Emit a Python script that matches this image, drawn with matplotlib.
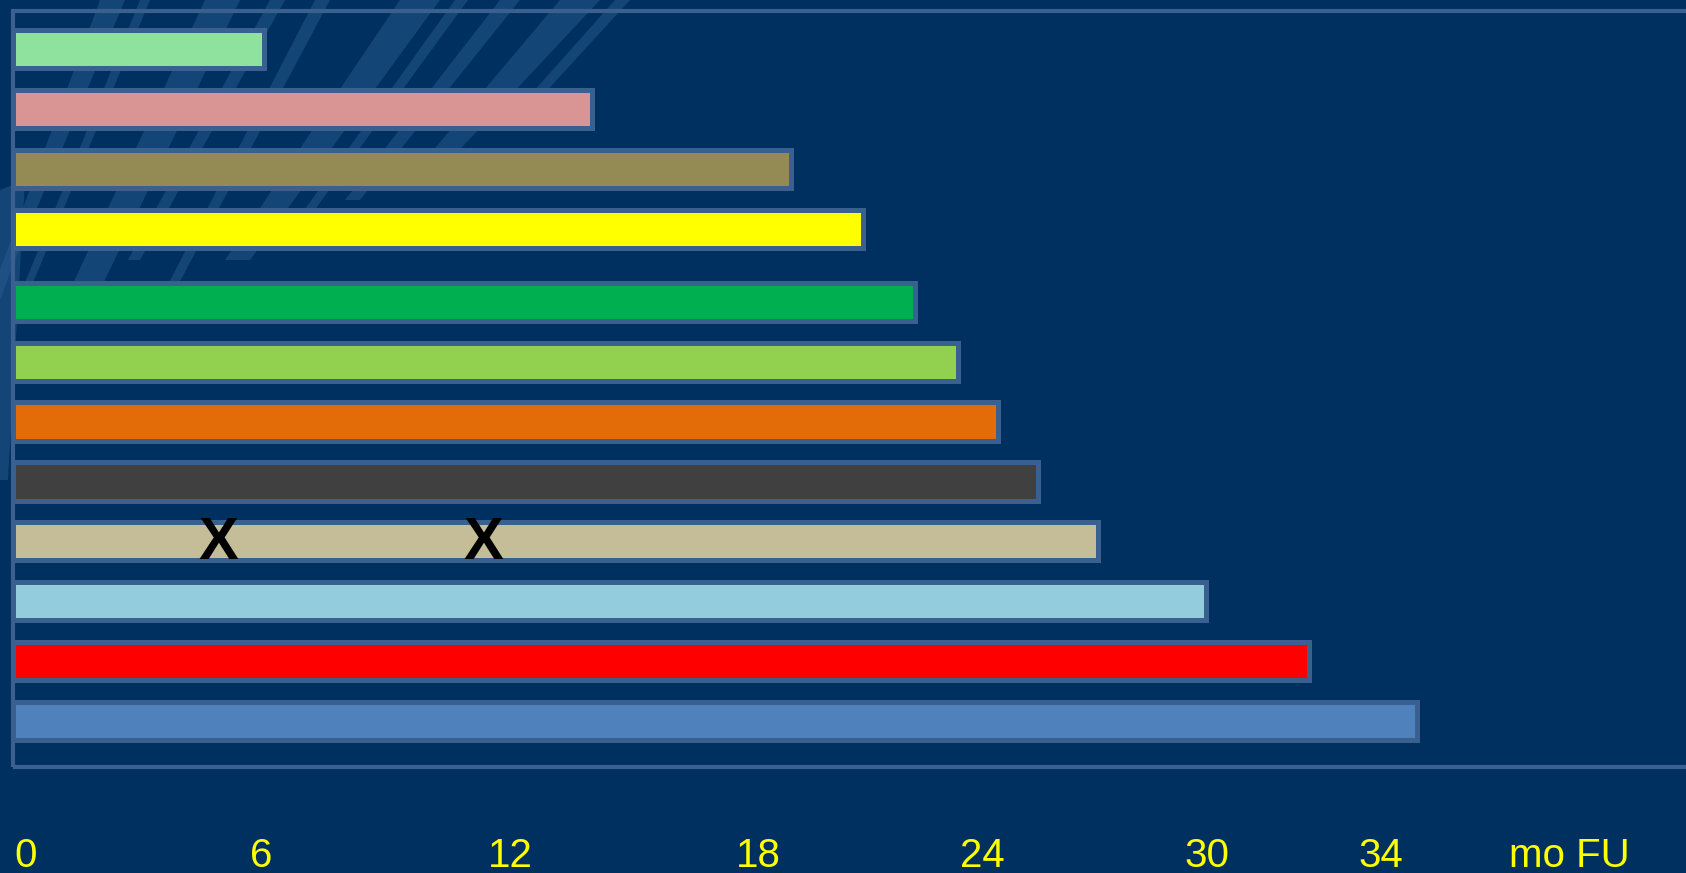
import matplotlib
matplotlib.use("Agg")
import matplotlib.pyplot as plt
from matplotlib.patches import Rectangle, Polygon

# ---- data ----
categories = ["P1", "P2", "P3", "P4", "P5", "P6", "P7", "P8", "P9", "P10", "P11", "P12"]
followup_months = [5.96, 14.2, 19.2, 21.0, 22.3, 23.4, 24.4, 25.4, 26.9, 29.6, 32.2, 34.9]
bar_colors = ["#8EE29E", "#D99594", "#948A54", "#FFFF00", "#00B050", "#92D050",
              "#E36C09", "#404040", "#C4BD97", "#93CDDD", "#FF0000", "#4F81BD"]
event_patient = 8            # index of the bar carrying the X marks
event_months = [4.82, 11.47]
tick_labels = ["0", "6", "12", "18", "24", "30", "34", "mo FU"]
tick_pos = [0.0, 5.9, 12.15, 18.37, 24.0, 29.64, 34.0, 38.74]

# ---- layout ----
W, H = 1686, 873
BG = "#003060"
EDGE = "#3A6090"
px_per_mo = 39.85
x0_px = 26
row_px = 60
row0_px = 49.5
bar_left = -0.33
row_pos = [i if i < 4 else i + 0.2 for i in range(len(categories))]

fig = plt.figure(figsize=(W / 100, H / 100), dpi=100, facecolor=BG)
ax = fig.add_axes([0, 0, 1, 1])
ax.set_facecolor(BG)
ax.set_xlim(-x0_px / px_per_mo, (W - x0_px) / px_per_mo)
ax.set_ylim((H - row0_px) / row_px, -row0_px / row_px)
ax.axis("off")

# background brush streaks (decoration, behind everything)
streaks = [
    [(100, 0), (125, 0), (15, 260), (0, 300), (0, 270)],
    [(140, 0), (150, 0), (30, 290), (22, 290)],
    [(205, 0), (240, 0), (100, 290), (70, 290)],
    [(270, 0), (285, 0), (140, 260), (128, 260)],
    [(315, 0), (330, 0), (170, 300), (160, 300)],
    [(400, 0), (440, 0), (250, 260), (225, 260)],
    [(455, 0), (468, 0), (300, 230), (290, 230)],
    [(500, 0), (520, 0), (360, 200), (345, 200)],
    [(560, 0), (600, 0), (450, 160), (425, 160)],
    [(615, 0), (630, 0), (520, 120), (508, 120)],
    [(0, 190), (25, 180), (8, 480), (0, 480)],
]
for pts in streaks:
    poly = Polygon([(x / W, 1 - y / H) for x, y in pts], closed=True,
                   transform=fig.transFigure, facecolor="#2D5F94", edgecolor="none",
                   alpha=0.45, zorder=0)
    ax.add_patch(poly)

# frame
frame = Rectangle((13 / W, 1 - 767 / H), 1.0, (767 - 11) / H, transform=fig.transFigure,
                  facecolor="none", edgecolor=EDGE, linewidth=3, zorder=1)
ax.add_patch(frame)

# bars
widths = [v - bar_left for v in followup_months]
ax.barh(row_pos, widths, left=bar_left, height=38 / row_px, color=bar_colors,
        edgecolor=EDGE, linewidth=3.6, zorder=3)

# event marks
for m in event_months:
    ax.text(m, row_pos[event_patient] + 0.03, "X", ha="center", va="center",
            fontsize=43, fontweight="bold", color="black",
            family=["Liberation Sans", "DejaVu Sans"], zorder=4)

# tick labels
for p, lab in zip(tick_pos, tick_labels):
    ax.text(p, 1 - 856 / H, lab, transform=ax.get_xaxis_transform(),
            ha="center", va="center", fontsize=29, color="#FFFF00",
            family=["Liberation Sans Narrow", "Liberation Sans", "DejaVu Sans"])

fig.savefig("out.png", dpi=100, facecolor=BG)
